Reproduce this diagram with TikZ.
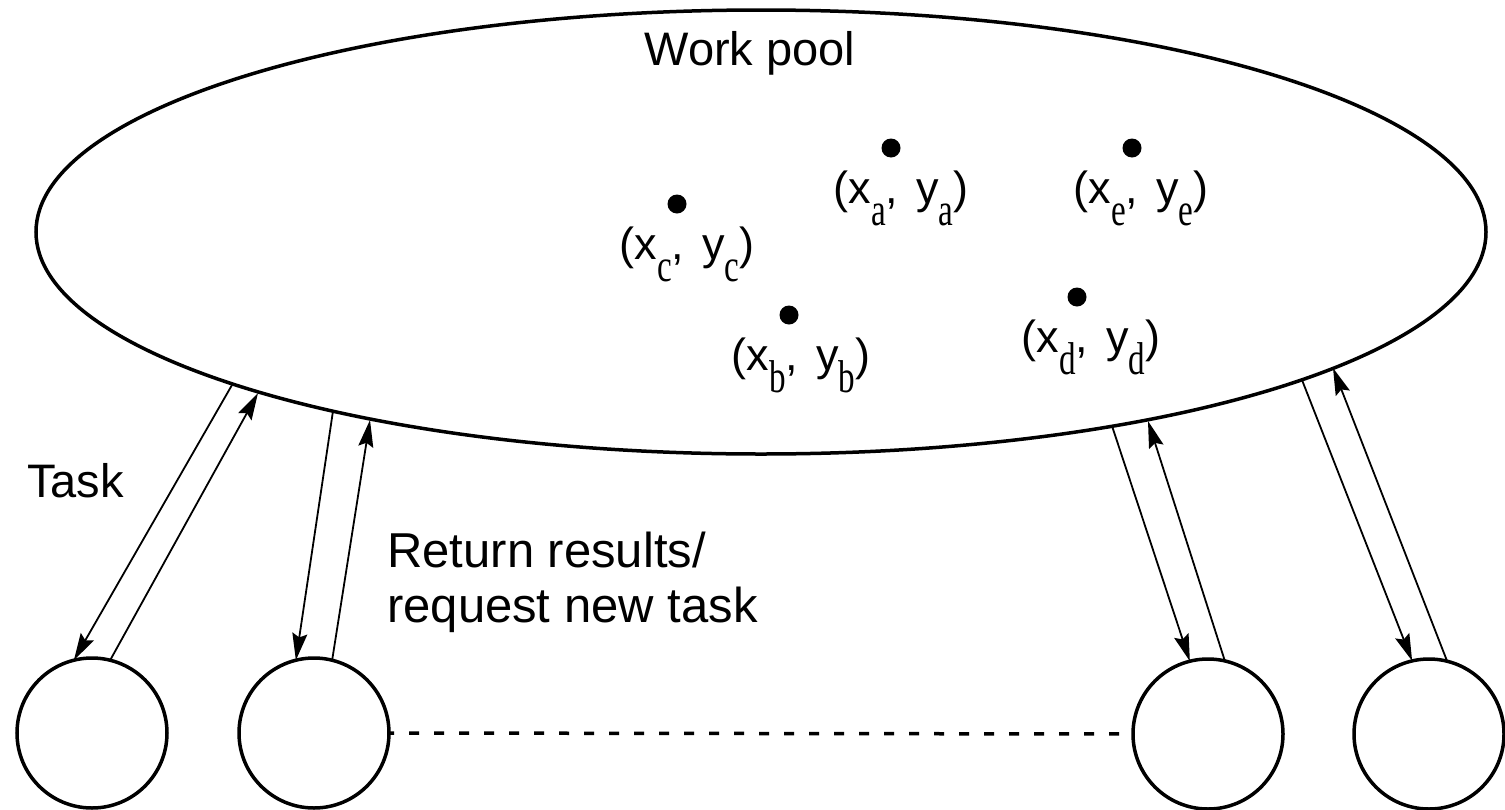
\documentclass[tikz,border=0pt]{standalone}
\usepackage{graphicx}
\usepackage{fontspec}
\setmainfont{Liberation Sans}
\newfontfamily\subserif{Liberation Serif}
\usetikzlibrary{arrows.meta,shapes.geometric}
\newcommand{\sbx}[1]{\raisebox{-22pt}{\scalebox{0.72}[1]{\fontsize{46}{46}\selectfont\subserif #1}}}
\newcommand{\coordlabel}[1]{(x\sbx{#1},\hspace{18pt}y\sbx{#1})}
\begin{document}
\begin{tikzpicture}[x=1pt,y=-1pt,
  wrk/.style={circle,draw,line width=3.5pt,minimum size=150pt,inner sep=0pt,outer sep=0pt},
  pool/.style={ellipse,draw,line width=3.5pt,minimum width=1450pt,minimum height=444pt,inner sep=0pt,outer sep=0pt},
  msg/.style={line width=1.8pt,-{Stealth[length=27pt,width=15pt,inset=4pt]}},
  dotm/.style={circle,fill,minimum size=19pt,inner sep=0pt},
  lbl/.style={font=\fontsize{45}{45}\selectfont,anchor=base,inner sep=0pt},
  txt/.style={font=\fontsize{47}{56}\selectfont,inner sep=0pt}]
\useasboundingbox (0,0) rectangle (1505,809);

% work pool
\node[pool] (pool) at (761,232) {};
\node[txt,anchor=base] (title) at (750,65) {Work pool};

% points
\node[dotm] (da) at (891,148) {};
\node[dotm] (de) at (1132,148) {};
\node[dotm] (dc) at (677,204) {};
\node[dotm] (db) at (789,315) {};
\node[dotm] (dd) at (1077,297) {};
\node[lbl] (la) at (901,203) {\coordlabel{a}};
\node[lbl] (le) at (1141,203) {\coordlabel{e}};
\node[lbl] (lc) at (687,259) {\coordlabel{c}};
\node[lbl] (lb) at (801,370) {\coordlabel{b}};
\node[lbl] (ld) at (1091,352) {\coordlabel{d}};

% workers
\node[wrk] (w1) at (92,733) {};
\node[wrk] (w2) at (314,733) {};
\node[wrk] (w3) at (1208,734) {};
\node[wrk] (w4) at (1429,734) {};
\draw[line width=3.5pt,dash pattern=on 10pt off 15pt,dash phase=-20pt] (w2.east) -- (w3.west);

% contact points on the pool
\coordinate (p1o) at (232,385);
\coordinate (p1i) at (258,393);
\coordinate (p2o) at (333,411);
\coordinate (p2i) at (370,420);
\coordinate (p3o) at (1112,426);
\coordinate (p3i) at (1148,421);
\coordinate (p4o) at (1302,380);
\coordinate (p4i) at (1333,368);

\draw[msg] (p1o) -- (w1.104);
\draw[msg] (w1.76) -- (p1i);
\draw[msg] (p2o) -- (w2.104);
\draw[msg] (w2.76) -- (p2i);
\draw[msg] (p3o) -- (w3.104);
\draw[msg] (w3.77) -- (p3i);
\draw[msg] (p4o) -- (w4.103);
\draw[msg] (w4.76) -- (p4i);

% labels
\node[txt,anchor=base west] (task) at (27,497) {Task};
\node[txt,font=\fontsize{49}{55}\selectfont,anchor=base west,align=left] (ret) at (387,622) {Return results/\\request new task};
\end{tikzpicture}
\end{document}
